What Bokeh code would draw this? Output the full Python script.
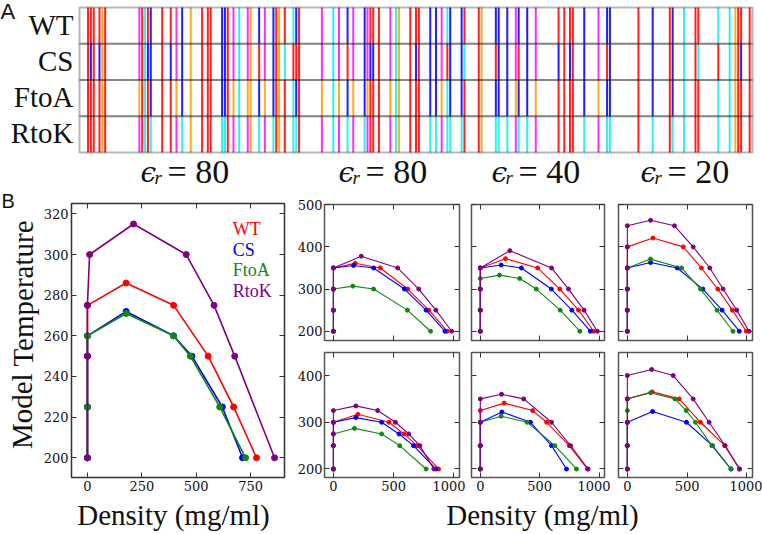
from bokeh.plotting import figure
from bokeh.layouts import column, row
from bokeh.models import Label, FixedTicker, LinearAxis, Range1d, BoxAnnotation
from bokeh.embed import file_html
from bokeh.resources import INLINE

SERIF = "Liberation Serif"
TICK_FONT = "DejaVu Serif"
SANS = "Liberation Sans"

# ---------------- Panel A data ----------------
row_names = ["WT", "CS", "FtoA", "RtoK"]
seq_positions = [3, 4, 5, 7, 8, 9, 21, 22, 23, 24,
                 25, 29, 32, 34, 36, 39, 43, 45, 46, 50,
                 51, 52, 54, 56, 59, 60, 63, 65, 68, 69,
                 70, 72, 75, 76, 77, 85, 89, 91, 94, 96,
                 100, 101, 102, 103, 105, 109, 111, 112, 116, 118,
                 119, 123, 125, 127, 129, 130, 134, 135, 140, 141,
                 146, 147, 150, 153, 154, 157, 160, 168, 170, 172,
                 173, 177, 182, 185, 186, 196, 201, 207, 208, 212,
                 216, 217, 224, 228, 230, 231, 232, 235]
WT_codes = "EEEEAEFEKE" "REEFRAEEER" "REFKFARFRE" "AEKREFKFRF" "RFEEEFKAEE" "ERRFKRREEA" "RRRFRRFEEE" "ERFRRERERK" "EEKKAEEE"
CS_codes = "ERERAEFEKR" "RERFRAEEER" "REFKFAEFRE" "AKEEEFKFEF" "RFRREFKAER" "ERRFERRKEA" "ERRFERFRER" "ERFERERERK" "EKEKAERE"
FtoA_codes = "EEEEAEAEKE" "REEARAEEER" "REAKAARARE" "AEKREAKARA" "RAEEEAKAEE" "ERRAKRREEA" "RRRARRAEEE" "ERARRERERK" "EEKKAEEE"
RtoK_codes = "EEEEAEFEKE" "KEEFKAEEEK" "KEFKFAKFKE" "AEKKEFKFKF" "KFEEEFKAEE" "EKKFKKKEEA" "KKKFKKFEEE" "EKFKKEKEKK" "EEKKAEEE"
code_color = {"E": "#ff2020", "R": "#2020ff", "K": "#30f0f0", "F": "#ff30ff", "A": "#ffaa20"}
eps_values = ["80", "80", "40", "20"]

# ---------------- Panel B data ----------------
series = ["WT", "CS", "FtoA", "RtoK"]
series_color = {"WT": "#ff0000", "CS": "#0000ff", "FtoA": "#118811", "RtoK": "#800080"}

main_density = {
    "WT":   [0, 0, 0, 0, 178, 396, 555, 672, 777],
    "CS":   [0, 0, 0, 0, 178, 396, 480, 620, 713],
    "FtoA": [0, 0, 0, 0, 178, 396, 473, 608, 727],
    "RtoK": [0, 0, 0, 10, 212, 454, 582, 677, 860],
}
main_temp = {
    "WT":   [200, 225, 250, 275, 286, 275, 250, 225, 200],
    "CS":   [200, 225, 250, 260, 272, 260, 250, 225, 200],
    "FtoA": [200, 225, 250, 260, 271, 260, 250, 225, 200],
    "RtoK": [200, 250, 275, 300, 315, 300, 275, 250, 200],
}

top80_density = {
    "WT":   [0, 0, 0, 0, 181, 389, 617, 792, 944],
    "CS":   [0, 0, 0, 0, 167, 333, 589, 769, 925],
    "FtoA": [0, 0, 0, 161, 333, 614, 806],
    "RtoK": [0, 0, 0, 0, 231, 533, 708, 850, 981],
}
top80_temp = {
    "WT":   [200, 250, 300, 350, 361, 350, 300, 250, 200],
    "CS":   [200, 250, 300, 350, 356, 350, 300, 250, 200],
    "FtoA": [200, 250, 300, 307, 300, 250, 200],
    "RtoK": [200, 250, 300, 350, 378, 350, 300, 250, 200],
}
top40_density = {
    "WT":   [0, 0, 0, 0, 212, 483, 670, 827, 955],
    "CS":   [0, 0, 0, 0, 176, 346, 598, 771, 927],
    "FtoA": [0, 0, 0, 0, 162, 332, 472, 673, 838],
    "RtoK": [0, 0, 0, 0, 249, 600, 743, 874, 986],
}
top40_temp = {
    "WT":   [200, 250, 300, 350, 372, 350, 300, 250, 200],
    "CS":   [200, 250, 300, 350, 357, 350, 300, 250, 200],
    "FtoA": [200, 250, 300, 325, 333, 325, 300, 250, 200],
    "RtoK": [200, 250, 300, 350, 391, 350, 300, 250, 200],
}
top20_density = {
    "WT":   [0, 0, 0, 0, 0, 214, 467, 619, 756, 878, 994],
    "CS":   [0, 0, 0, 0, 194, 417, 631, 792, 936],
    "FtoA": [0, 0, 0, 0, 194, 453, 611, 750, 883],
    "RtoK": [0, 0, 0, 0, 0, 0, 194, 394, 550, 689, 800, 914, 1017],
}
top20_temp = {
    "WT":   [200, 250, 300, 350, 400, 421, 400, 350, 300, 250, 200],
    "CS":   [200, 250, 300, 350, 363, 350, 300, 250, 200],
    "FtoA": [200, 250, 300, 350, 371, 350, 300, 250, 200],
    "RtoK": [200, 250, 300, 350, 400, 450, 463, 450, 400, 350, 300, 250, 200],
}
bot80_density = {
    "WT":   [0, 0, 0, 203, 461, 586, 694, 872],
    "CS":   [0, 0, 0, 186, 400, 544, 664, 850],
    "FtoA": [0, 0, 0, 175, 400, 550, 769],
    "RtoK": [0, 0, 0, 0, 0, 186, 367, 514, 625, 717, 833],
}
bot80_temp = {
    "WT":   [200, 250, 300, 317, 300, 275, 250, 200],
    "CS":   [200, 250, 300, 310, 300, 275, 250, 200],
    "FtoA": [200, 250, 275, 287, 275, 250, 200],
    "RtoK": [200, 250, 275, 300, 325, 335, 325, 300, 275, 250, 200],
}
bot40_density = {
    "WT":   [0, 0, 0, 0, 201, 441, 559, 749, 902],
    "CS":   [0, 0, 0, 182, 422, 600, 726],
    "FtoA": [0, 0, 0, 176, 394, 628, 810],
    "RtoK": [0, 0, 0, 0, 179, 366, 600, 760, 908],
}
bot40_temp = {
    "WT":   [200, 250, 300, 325, 341, 325, 300, 250, 200],
    "CS":   [200, 250, 300, 322, 300, 250, 200],
    "FtoA": [200, 250, 300, 313, 300, 250, 200],
    "RtoK": [200, 250, 300, 350, 360, 350, 300, 250, 200],
}
bot20_density = {
    "WT":   [0, 0, 0, 0, 208, 433, 611, 814, 936],
    "CS":   [0, 0, 0, 211, 494, 711, 867],
    "FtoA": [0, 0, 0, 0, 0, 194, 397, 492, 569, 706, 864],
    "RtoK": [0, 0, 0, 0, 0, 203, 383, 550, 683, 817, 939],
}
bot20_temp = {
    "WT":   [200, 250, 300, 350, 365, 350, 300, 250, 200],
    "CS":   [200, 250, 300, 323, 300, 250, 200],
    "FtoA": [200, 250, 300, 325, 350, 363, 350, 325, 300, 250, 200],
    "RtoK": [200, 250, 300, 350, 400, 413, 400, 350, 300, 250, 200],
}

main_xticks = [0, 250, 500, 750]
main_yticks = [200, 220, 240, 260, 280, 300, 320]
small_xticks = [0, 500, 1000]

all_figs = []


def new_figure(**kw):
    p = figure(output_backend="svg", toolbar_location=None, title=None, **kw)
    if "frame_align" in p.properties():
        p.frame_align = False
    all_figs.append(p)
    return p


def add_label(p, x, y, text, size, font=SERIF, style="normal", align="left",
              color="#111111", angle=0.0):
    # (x, y) is the visual centre line of the text
    p.add_layout(Label(x=x, y=y, text=text, text_font=font, text_font_size=size,
                       text_font_style=style, text_align=align,
                       text_baseline="middle", text_color=color, angle=angle))


def text_canvas(width, height):
    """A figure whose frame is the whole canvas; data units are pixels (y up)."""
    p = new_figure(width=width, height=height, x_range=Range1d(0, width),
                   y_range=Range1d(0, height), x_axis_type=None, y_axis_type=None,
                   min_border=0)
    p.outline_line_color = None
    p.grid.visible = False
    return p


def box_axes(p, xt, yt, show_x, show_y, size="13px", xs=3, ys=3, tick_color="#333333"):
    bottom = p.below[0]
    left = p.left[0]
    bottom.ticker = FixedTicker(ticks=xt)
    left.ticker = FixedTicker(ticks=yt)
    top = LinearAxis(ticker=FixedTicker(ticks=xt))
    right = LinearAxis(ticker=FixedTicker(ticks=yt))
    p.add_layout(top, "above")
    p.add_layout(right, "right")
    for ax in [bottom, left, top, right]:
        ax.axis_line_color = None
        ax.major_tick_in = 5
        ax.major_tick_out = 0
        ax.major_tick_line_color = tick_color
        ax.major_tick_line_width = 1
        ax.minor_tick_line_color = None
        ax.major_label_text_font = TICK_FONT
        ax.major_label_text_font_size = size
        ax.major_label_text_color = "#111111"
    bottom.major_label_standoff = xs
    left.major_label_standoff = ys
    hidden = [top, right]
    if not show_x:
        hidden.append(bottom)
    if not show_y:
        hidden.append(left)
    for ax in hidden:
        ax.major_label_text_color = None
        ax.major_label_text_font_size = "1px"
        ax.major_label_standoff = 0
    p.grid.visible = False


# ---------------- Panel A (frame = whole canvas) ----------------
A_W, A_H = 762, 190
BOX_L, BOX_R, BOX_T, BOX_B = 79.0, 752.0, 7.0, 152.0
sx = (BOX_R - BOX_L) / 236.0
sy = (BOX_B - BOX_T) / 4.0
pa = new_figure(width=A_W, height=A_H,
                x_range=Range1d(-BOX_L / sx, 236 + (A_W - BOX_R) / sx),
                y_range=Range1d(-(A_H - BOX_B) / sy, 4 + BOX_T / sy),
                x_axis_type=None, y_axis_type=None, min_border=0)
pa.outline_line_color = None
pa.grid.visible = False
ax_ = lambda px: (px - BOX_L) / sx
ay_ = lambda py: (BOX_B - py) / sy

n_pos = len(seq_positions)
for i, codes in enumerate([WT_codes, CS_codes, FtoA_codes, RtoK_codes]):
    pa.segment(x0=seq_positions, x1=seq_positions, y0=[3 - i] * n_pos, y1=[4 - i] * n_pos,
               line_color=[code_color[c] for c in codes], line_width=2)
for i, name in enumerate(row_names):
    pa.add_layout(BoxAnnotation(left=0, right=236, bottom=3 - i, top=4 - i,
                                fill_alpha=0, line_color="#111111", line_width=2))
    add_label(pa, ax_(73), 3.5 - i + 1.0 / sy, name, "29px", align="right")

add_label(pa, ax_(0), ay_(11), "A", "22px", font=SANS)
for c, v in zip([186, 384, 537, 686], eps_values):
    add_label(pa, ax_(c - 46), ay_(172), "\u03f5", "28px", font="DejaVu Serif", style="italic")
    add_label(pa, ax_(c - 32), ay_(177), "r", "19px", style="italic")
    add_label(pa, ax_(c - 19), ay_(171), "= " + v, "34px")

# ---------------- Panel B: label strip on the left ----------------
B_TOP, B_BOT = 190, 497
pb_side = text_canvas(40, B_BOT - B_TOP)
add_label(pb_side, 1, B_BOT - 200.5, "B", "20px", font=SANS)
add_label(pb_side, 22, B_BOT - 334, "Model Temperature", "29px", align="center", angle=1.5707963)

# ---------------- Panel B main figure ----------------
pl = new_figure(width=252, height=B_BOT - B_TOP, x_range=Range1d(-73.2, 905.8),
                y_range=Range1d(190.3, 325.1),
                min_border_left=30, min_border_right=8, min_border_top=13, min_border_bottom=20)
pl.outline_line_color = "#333333"
pl.outline_line_width = 1.5
box_axes(pl, main_xticks, main_yticks, True, True, xs=3, ys=3)
for s_ in series:
    pl.line(main_density[s_], main_temp[s_], line_color=series_color[s_], line_width=1.6)
    pl.scatter(main_density[s_], main_temp[s_], size=6, color=series_color[s_])

lx = lambda px: -73.2 + (px - 70.0) * 979.0 / 214.0
ly = lambda py: 190.3 + (477.0 - py) * 134.8 / 274.0
for s_, b in zip(series, [228, 249, 269.5, 290]):
    add_label(pl, lx(232), ly(b), s_, "18px", color=series_color[s_])


# ---------------- small panels ----------------
def small(width, height, bl, br, bt, bb, yr, yt, show_x, show_y, dens, temp):
    p = new_figure(width=width, height=height, x_range=Range1d(-74, 1046), y_range=Range1d(*yr),
                   min_border_left=bl, min_border_right=br, min_border_top=bt, min_border_bottom=bb)
    p.outline_line_color = "#555555"
    p.outline_line_width = 1.5
    box_axes(p, small_xticks, yt, show_x, show_y, xs=3, ys=2)
    for s_ in series:
        p.line(dens[s_], temp[s_], line_color=series_color[s_], line_width=1.1)
        p.scatter(dens[s_], temp[s_], size=4, color=series_color[s_])
    return p


top_yr = (178, 500.5)
top_yt = [200, 300, 400, 500]
bot_yr = (181.8, 449.3)
bot_yt = [200, 300, 400]

t80 = small(173, 156, 32, 6, 14, 6, top_yr, top_yt, False, True, top80_density, top80_temp)
t40 = small(145, 156, 6, 6, 14, 6, top_yr, top_yt, False, False, top40_density, top40_temp)
t20 = small(152, 156, 8, 10, 14, 6, top_yr, top_yt, False, False, top20_density, top20_temp)
b80 = small(173, 151, 32, 6, 6, 20, bot_yr, bot_yt, True, True, bot80_density, bot80_temp)
b40 = small(145, 151, 6, 6, 6, 20, bot_yr, bot_yt, True, False, bot40_density, bot40_temp)
b20 = small(152, 151, 8, 10, 6, 20, bot_yr, bot_yt, True, False, bot20_density, bot20_temp)

# ---------------- bottom strip with the two x-axis titles ----------------
plab = text_canvas(762, 534 - B_BOT)
add_label(plab, 173, 534 - 514.5, "Density (mg/ml)", "29px", align="center")
add_label(plab, 542, 534 - 514.5, "Density (mg/ml)", "29px", align="center")

grid = column(row(t80, t40, t20), row(b80, b40, b20))
layout = column(pa, row(pb_side, pl, grid), plab)

open("out.html", "w").write(file_html(layout, INLINE))
